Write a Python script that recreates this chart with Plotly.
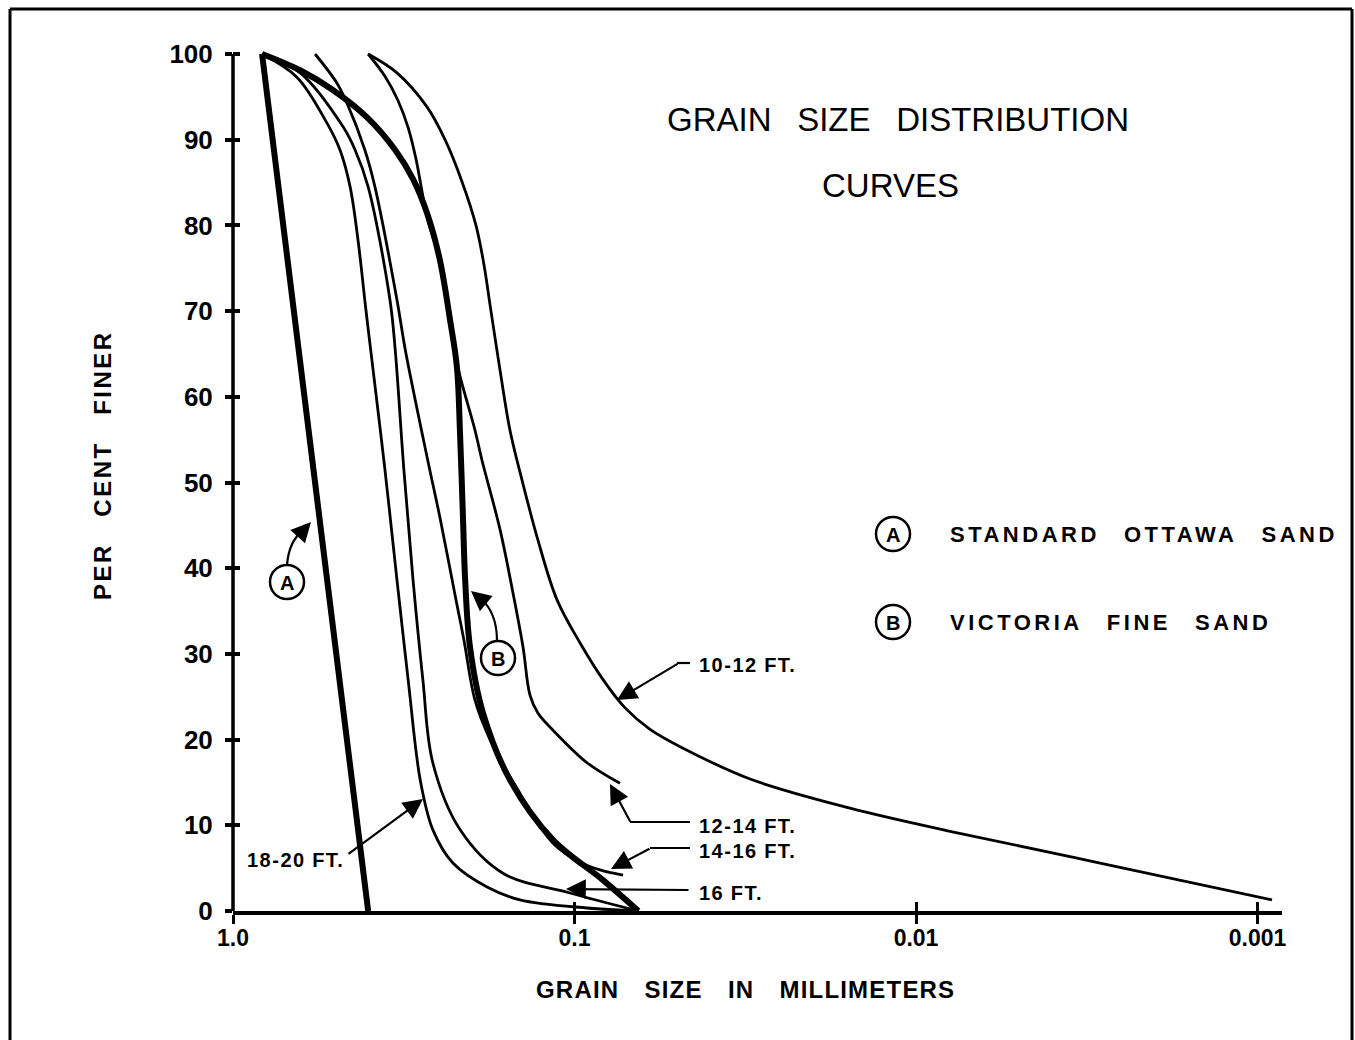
import plotly.graph_objects as go

# ---------------- data (grain size in mm, per cent finer) ----------------
ottawa_size = [0.822, 0.650, 0.530, 0.461, 0.402]
ottawa_pct = [100, 67.8, 38.6, 19.1, 0]

victoria_size = [0.822, 0.636, 0.510, 0.405, 0.335, 0.297, 0.269, 0.248, 0.2315,
                 0.221, 0.2164, 0.212, 0.209, 0.2023, 0.1853, 0.1545, 0.1156, 0.0825, 0.065]
victoria_pct = [100, 98.1, 95.8, 92.6, 88.8, 85.4, 81.2, 76.0, 69.0,
                63.5, 55.8, 45.6, 38.6, 30.8, 23.1, 15.3, 8.3, 3.6, 0]

ft10_12_size = [0.402, 0.331, 0.270, 0.2394, 0.2135, 0.1943, 0.1841, 0.1767, 0.1652, 0.1545,
                0.1425, 0.128, 0.1125, 0.0964, 0.0825, 0.0711, 0.0601, 0.0481, 0.0306,
                0.0156, 0.00795, 0.00289, 0.000907]
ft10_12_pct = [100, 97.8, 93.8, 90.0, 85.1, 80.0, 75.4, 70.7, 63.1, 56.1,
               50.3, 43.3, 36.3, 31.3, 27.0, 23.7, 21.2, 19.0, 15.4,
               12.0, 9.3, 5.6, 1.3]

ft12_14_size = [0.402, 0.359, 0.329, 0.307, 0.291, 0.280, 0.269, 0.248, 0.2315, 0.221,
                0.1956, 0.1866, 0.1652, 0.1514, 0.1415, 0.135, 0.128, 0.1156, 0.0919, 0.0736]
ft12_14_pct = [100, 97.4, 94.6, 91.4, 87.7, 84.1, 80.6, 76.0, 69.0, 63.9,
               56.1, 52.6, 44.5, 37.1, 30.8, 25.2, 23.1, 21.1, 17.3, 14.9]

ft14_16_size = [0.575, 0.496, 0.464, 0.411, 0.384, 0.331, 0.313, 0.269, 0.248, 0.2223,
                0.2107, 0.1956, 0.1767, 0.1494, 0.1156, 0.0964, 0.0842, 0.0721]
ft14_16_pct = [100, 96.6, 94.3, 88.8, 84.5, 71.3, 65.5, 52.6, 46.0, 36.3,
               31.6, 24.6, 20.0, 14.7, 7.9, 5.7, 4.8, 4.2]

ft16_size = [0.822, 0.636, 0.476, 0.439, 0.402, 0.347, 0.335, 0.316, 0.297, 0.278,
             0.260, 0.2164, 0.162, 0.1031, 0.065]
ft16_pct = [100, 97.8, 91.5, 88.8, 84.5, 71.3, 65.5, 51.5, 38.6, 27.0,
            17.3, 9.5, 4.4, 2.1, 0]

ft18_20_size = [0.822, 0.650, 0.530, 0.486, 0.454, 0.4305, 0.408, 0.392, 0.359, 0.331,
                0.307, 0.283, 0.260, 0.227, 0.1803, 0.1444, 0.0919, 0.065]
ft18_20_pct = [100, 97.3, 91.9, 88.8, 84.5, 78.3, 70.1, 64.3, 51.5, 38.6,
               27.0, 15.3, 9.5, 5.6, 2.8, 1.3, 0.35, 0]

x_tick_vals = [1.0, 0.1, 0.01, 0.001]
x_tick_text = ["1.0", "0.1", "0.01", "0.001"]
y_tick_vals = [0, 10, 20, 30, 40, 50, 60, 70, 80, 90, 100]

# ---------------- layout geometry ----------------
FIG_W, FIG_H = 1355, 1040
PL, PR, PT, PB = 233, 1282, 40, 911      # plot area in pixels
PW, PH = PR - PL, PB - PT
Y_MAX = 100 + (54 - PT) / (PB - 54) * 100
X_RANGE = [0, -(PR - PL) / 341.5]


def px(x, y):
    return (x - PL) / PW, (PB - y) / PH


BLACK = "black"
fig = go.Figure()

thin = dict(color=BLACK, width=2.8)
thick = dict(color=BLACK, width=6)
series = [
    (ottawa_size, ottawa_pct, thick, "linear", "Standard Ottawa sand"),
    (victoria_size, victoria_pct, thick, "spline", "Victoria fine sand"),
    (ft10_12_size, ft10_12_pct, thin, "spline", "10-12 ft"),
    (ft12_14_size, ft12_14_pct, thin, "spline", "12-14 ft"),
    (ft14_16_size, ft14_16_pct, thin, "spline", "14-16 ft"),
    (ft16_size, ft16_pct, thin, "spline", "16 ft"),
    (ft18_20_size, ft18_20_pct, thin, "spline", "18-20 ft"),
]
for xs, ys, ln, shp, name in series:
    l = dict(ln)
    l["shape"] = shp
    if shp == "spline":
        l["smoothing"] = 1.0
    fig.add_trace(go.Scatter(x=xs, y=ys, mode="lines", line=l, name=name,
                             showlegend=False, hoverinfo="skip"))

# dummy trace binding the overlay axes (used only for crossing ticks)
fig.add_trace(go.Scatter(x=[], y=[], xaxis="x2", yaxis="y2", showlegend=False))

NUM_FONT = dict(family="Liberation Sans", size=26, color=BLACK, weight="bold")
LBL_FONT = dict(family="Liberation Sans", size=20, color=BLACK, weight="bold")

fig.update_layout(
    width=FIG_W, height=FIG_H, autosize=False,
    margin=dict(l=PL, r=FIG_W - PR, t=PT, b=FIG_H - PB, pad=0),
    paper_bgcolor="white", plot_bgcolor="white",
    xaxis=dict(type="log", range=X_RANGE, tickvals=x_tick_vals, ticktext=x_tick_text,
               ticks="outside", ticklen=9, tickwidth=2.5, tickcolor=BLACK,
               showline=True, linecolor=BLACK, linewidth=3.5, showgrid=False,
               zeroline=False, tickfont=dict(family="Liberation Sans", size=23,
                                             color=BLACK, weight="bold"),
               ticklabelstandoff=-5),
    yaxis=dict(range=[0, Y_MAX], tickvals=y_tick_vals,
               ticktext=[str(v) for v in y_tick_vals],
               ticks="outside", ticklen=7, tickwidth=3.5, tickcolor=BLACK,
               showline=False, showgrid=False, zeroline=False, tickfont=NUM_FONT,
               ticklabelstandoff=7),
    xaxis2=dict(type="log", range=X_RANGE, overlaying="x", anchor="y2", side="bottom",
                tickvals=x_tick_vals[1:], ticks="inside", ticklen=9, tickwidth=2.5,
                tickcolor=BLACK, showticklabels=False, showgrid=False, zeroline=False,
                showline=False),
    yaxis2=dict(range=[0, Y_MAX], overlaying="y", anchor="x2", side="left",
                tickvals=y_tick_vals[1:], ticks="inside", ticklen=7, tickwidth=3.5,
                tickcolor=BLACK, showticklabels=False, showgrid=False, zeroline=False,
                showline=False),
)

shapes = []
# y axis line from 0 to 100
shapes.append(dict(type="line", xref="paper", yref="y", x0=0, x1=0, y0=0, y1=100,
                   line=dict(color=BLACK, width=3.5)))
# outer border (left, top, right)
for (x0, y0, x1, y1) in [(10, 9, 10, 1045), (10, 9, 1352, 9), (1352, 9, 1352, 1045)]:
    a, b = px(x0, y0)
    c, d = px(x1, y1)
    shapes.append(dict(type="line", xref="paper", yref="paper", x0=a, y0=b, x1=c, y1=d,
                       line=dict(color=BLACK, width=3)))


def circle(cx, cy, r=17):
    a, b = px(cx - r, cy + r)
    c, d = px(cx + r, cy - r)
    shapes.append(dict(type="circle", xref="paper", yref="paper", x0=a, y0=b, x1=c, y1=d,
                       line=dict(color=BLACK, width=2.5)))


def seg(x0, y0, x1, y1, w=2.2):
    a, b = px(x0, y0)
    c, d = px(x1, y1)
    shapes.append(dict(type="line", xref="paper", yref="paper", x0=a, y0=b, x1=c, y1=d,
                       line=dict(color=BLACK, width=w)))


def qcurve(x0, y0, cx, cy, x1, y1, w=2.2):
    a, b = px(x0, y0)
    c, d = px(cx, cy)
    e, f = px(x1, y1)
    shapes.append(dict(type="path", xref="paper", yref="paper",
                       path=f"M {a},{b} Q {c},{d} {e},{f}",
                       line=dict(color=BLACK, width=w)))


annotations = []


def text(x, y, s, font, xanchor="left", angle=0):
    a, b = px(x, y)
    annotations.append(dict(x=a, y=b, xref="paper", yref="paper", text=s, showarrow=False,
                            font=font, xanchor=xanchor, yanchor="middle", textangle=angle))


def arrow(hx, hy, tx, ty):
    a, b = px(hx, hy)
    annotations.append(dict(x=a, y=b, xref="paper", yref="paper", text="", showarrow=True,
                            ax=tx - hx, ay=ty - hy, arrowhead=2, arrowsize=1.8,
                            arrowwidth=2.2, arrowcolor=BLACK, standoff=0, startstandoff=0))


def spaced(s, ls):
    return f'<span style="letter-spacing:{ls}px">{s}</span>'


CIRC_FONT = dict(family="Liberation Sans", size=20, color=BLACK, weight="bold")

# circled markers inside the plot
circle(287, 582)
text(287, 583, "A", CIRC_FONT, "center")
qcurve(287, 565, 289, 540, 304, 530)
arrow(311, 522, 301, 533)

circle(498, 658)
text(498, 659, "B", CIRC_FONT, "center")
qcurve(497, 641, 497, 612, 480, 598)
arrow(471, 591, 483, 601)

# depth labels with leaders
text(697, 665, spaced("10-12&#8197;FT.", 1.5), LBL_FONT)
seg(690, 663, 677, 663)
arrow(617, 700, 679, 663)

text(697, 826, spaced("12-14&#8197;FT.", 1.5), LBL_FONT)
seg(690, 822, 630, 822)
arrow(610, 784, 631, 823)

text(697, 851, spaced("14-16&#8197;FT.", 1.5), LBL_FONT)
seg(690, 848, 650, 848)
arrow(611, 869, 651, 848)

text(697, 893, spaced("16&#8197;FT.", 1.5), LBL_FONT)
arrow(566, 889, 690, 890)

text(245, 860, spaced("18-20&#8197;FT.", 1.5), LBL_FONT)
arrow(423, 799, 347, 855)

# title
TITLE_FONT = dict(family="Liberation Sans", size=33, color=BLACK)
text(898, 119, "GRAIN&#8194; SIZE&#8194; DISTRIBUTION", TITLE_FONT, "center")
text(890, 186, "CURVES", TITLE_FONT, "center")

# key
KEY_FONT = dict(family="Liberation Sans", size=22, color=BLACK, weight="bold")
circle(893, 534)
text(893, 535, "A", CIRC_FONT, "center")
text(948, 534, spaced("STANDARD&#8194; OTTAWA&#8194; SAND", 3.5), KEY_FONT)
circle(893, 622)
text(893, 623, "B", CIRC_FONT, "center")
text(948, 622, spaced("VICTORIA&#8194; FINE&#8194; SAND", 3.5), KEY_FONT)

# axis titles
AX_FONT = dict(family="Liberation Sans", size=24, color=BLACK, weight="bold")
text(745, 989, spaced("GRAIN&#8195;SIZE&#8195;IN&#8195;MILLIMETERS", 1.2), AX_FONT, "center")
text(103, 465, spaced("PER&#8195;CENT&#8195;FINER", 2.5), AX_FONT, "center", angle=-90)

fig.update_layout(shapes=shapes, annotations=annotations)
fig.write_html("out.html")
